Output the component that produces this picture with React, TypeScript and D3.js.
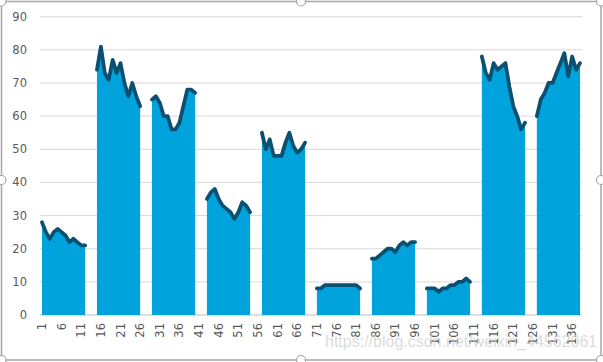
import React from 'react';
import * as d3 from 'd3';

// 138 categories, ten groups of twelve points with two blanks between groups
const categoryCount = 138;
const groupStarts = [1, 15, 29, 43, 57, 71, 85, 99, 113, 127];

const group1 = [28, 25, 23, 25, 26, 25, 24, 22, 23, 22, 21, 21];
const group2 = [74, 81, 73, 71, 77, 73, 76, 70, 66, 70, 66, 63];
const group3 = [65, 66, 64, 60, 60, 56, 56, 58, 63, 68, 68, 67];
const group4 = [35, 37, 38, 35, 33, 32, 31, 29, 31, 34, 33, 31];
const group5 = [55, 50, 53, 48, 48, 48, 52, 55, 51, 49, 50, 52];
const group6 = [8, 8, 9, 9, 9, 9, 9, 9, 9, 9, 9, 8];
const group7 = [17, 17, 18, 19, 20, 20, 19, 21, 22, 21, 22, 22];
const group8 = [8, 8, 8, 7, 8, 8, 9, 9, 10, 10, 11, 10];
const group9 = [78, 73, 71, 76, 74, 75, 76, 69, 63, 60, 56, 58];
const group10 = [60, 65, 67, 70, 70, 73, 76, 79, 72, 78, 74, 76];

const groups = [group1, group2, group3, group4, group5, group6, group7, group8, group9, group10];
const yTicks = [0, 10, 20, 30, 40, 50, 60, 70, 80, 90];

const width = 603;
const height = 362;
const margin = { top: 16.7, right: 21, bottom: 47, left: 40 };

const fillColor = '#00A3DB';
const lineColor = '#0B5071';
const textColor = '#595959';
const font = '"DejaVu Sans", sans-serif';

const App = () => {
  const categories = d3.range(1, categoryCount + 1);
  const x = d3.scaleBand<number>()
    .domain(categories)
    .range([margin.left, width - margin.right])
    .padding(0);
  const cx = (c: number) => (x(c) as number) + x.bandwidth() / 2;
  const y = d3.scaleLinear().domain([0, 90]).range([height - margin.bottom, margin.top]);

  const series = groups.map((vals, g) => vals.map((v, i) => ({ c: groupStarts[g] + i, v })));

  const area = d3.area<{ c: number; v: number }>()
    .x(d => cx(d.c))
    .y0(y(0))
    .y1(d => y(d.v));
  const line = d3.line<{ c: number; v: number }>()
    .x(d => cx(d.c))
    .y(d => y(d.v));

  const xLabels = categories.filter(c => (c - 1) % 5 === 0);
  const handles = [
    [1.5, 1.5], [301, 1.5], [601, 1.5],
    [1.5, 180], [601, 180],
    [1.5, 360], [301, 360], [601, 360],
  ];

  return (
    <svg width={width} height={height} style={{ position: 'absolute', left: 0, top: 0, background: '#fff' }}>
      <rect x={1.5} y={1.5} width={599.5} height={358.5} rx={4} fill="#fff" stroke="#A6A6A6" strokeWidth={1.5} />

      {yTicks.map(t => (
        <g key={t}>
          <line x1={margin.left} x2={width - margin.right} y1={y(t)} y2={y(t)}
            stroke={t === 0 ? '#BFBFBF' : '#D9D9D9'} strokeWidth={1} />
          <text x={27} y={y(t)} dy="0.35em" textAnchor="end" fontFamily={font} fontSize={11.5} fill={textColor}>{t}</text>
        </g>
      ))}

      {series.map((s, i) => (
        <path key={'a' + i} d={area(s) as string} fill={fillColor} />
      ))}
      {series.map((s, i) => (
        <path key={'l' + i} d={line(s) as string} fill="none" stroke={lineColor} strokeWidth={3.75}
          strokeLinejoin="round" strokeLinecap="round" />
      ))}

      {xLabels.map(c => (
        <text key={c} transform={`translate(${cx(c)},${y(0) + 8}) rotate(-90)`} dy="0.35em"
          textAnchor="end" fontFamily={font} fontSize={11.5} fill={textColor}>{c}</text>
      ))}

      <text x={325} y={347} fontFamily='"Liberation Sans", Arial, sans-serif' fontSize={16}
        fill="#D0D0D0" fillOpacity={0.75}>https://blog.csdn.net/weixin_44562061</text>

      {handles.map(([hx, hy], i) => (
        <circle key={i} cx={hx} cy={hy} r={4.5} fill="#fff" stroke="#A6A6A6" strokeWidth={1.2} />
      ))}
    </svg>
  );
};

export default App;
